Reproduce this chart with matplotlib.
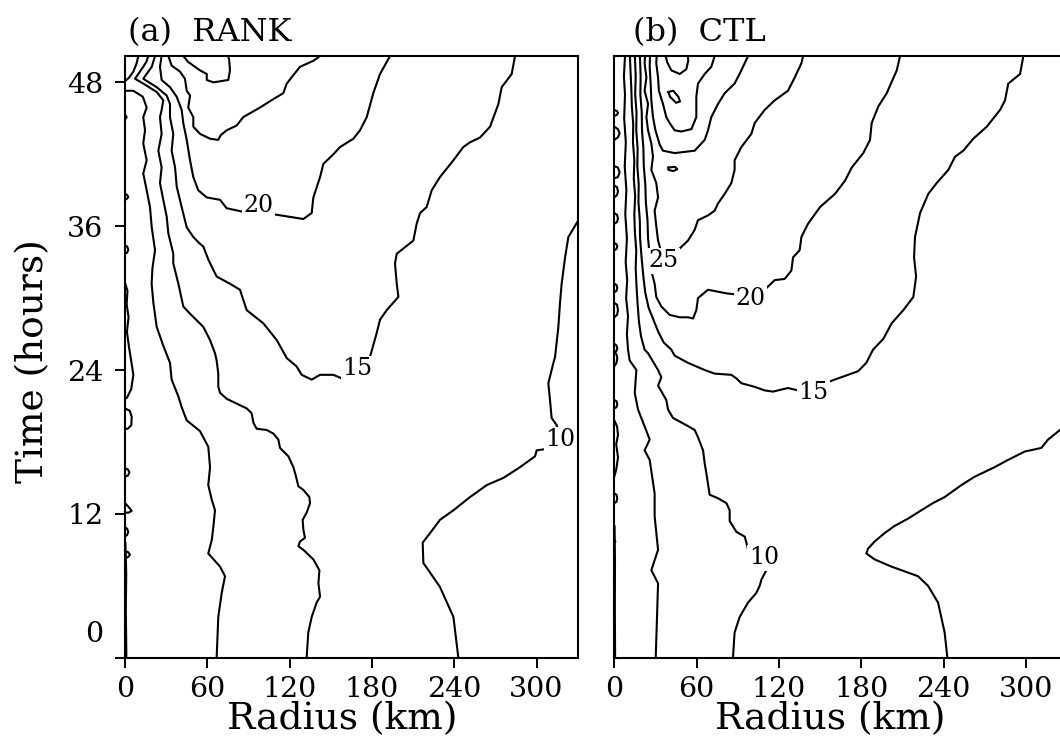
import numpy as np
import matplotlib
matplotlib.use("Agg")
import matplotlib.pyplot as plt
from matplotlib.ticker import FixedLocator

plt.rcParams['font.family'] = ['DejaVu Serif']

# ------------------------------------------------------------------
# Axis layout values
# ------------------------------------------------------------------
radius_ticks = [0, 60, 120, 180, 240, 300]
time_ticks = [0, 12, 24, 36, 48]
time_tick_labels = ['', '12', '24', '36', '48']
radius_max = 330.0
time_max = 50.2

# ------------------------------------------------------------------
# (a) RANK : isotach positions, (radius km, time h)
# ------------------------------------------------------------------
rank_v05_core = [(0, 47.3), (6, 47.3), (13, 46.8), (15.8, 45.9), (13.3, 45.1), (14.6, 44.0),
                 (13.3, 42.9), (15.8, 41.5), (13.3, 40.4), (15.8, 39.0), (18.2, 37.6), (19.5, 35.9),
                 (21.9, 34.0), (20.0, 32.5), (19.4, 31.2), (20.7, 29.6), (23.1, 27.6), (28.0, 26.0),
                 (32.8, 24.6), (34.0, 23.2), (38.9, 21.8), (41.3, 20.9), (45.0, 19.8), (54.7, 18.9),
                 (60.7, 17.6), (62.0, 15.9), (60.7, 14.4), (63.2, 13.2), (65.6, 12.3), (64.4, 10.9),
                 (63.2, 9.8), (60.7, 8.7), (69.3, 7.6), (72.9, 6.8), (70.5, 5.4), (68.0, 3.4), (66.8, 0.0)]
rank_v05_eye = [(9.7, 50.2), (8.5, 49.6), (6.1, 48.9), (3.0, 48.4), (0.0, 48.1)]
rank_v10_inner = [(17.0, 50.2), (15.5, 49.7), (13.3, 49.3), (7.3, 48.3), (13.3, 47.9), (23.1, 47.2),
                  (27.9, 46.5), (26.7, 45.7), (25.5, 45.1), (26.7, 43.7), (24.3, 42.3), (26.7, 40.9),
                  (25.5, 39.6), (27.9, 38.2), (30.4, 36.8), (31.6, 35.4), (35.2, 33.7), (35.2, 32.9),
                  (38.9, 31.2), (42.5, 29.3), (47.4, 28.7), (57.1, 27.6), (62.0, 26.5), (65.6, 25.4),
                  (66.8, 24.8), (68.0, 23.7), (68.0, 22.6), (69.3, 22.1), (74.1, 21.6), (81.4, 21.2),
                  (88.7, 20.8), (92.3, 20.4), (93.6, 19.6), (96.0, 19.1), (103.3, 19.0), (108.1, 18.7),
                  (111.8, 18.2), (113.0, 17.5), (119.1, 16.8), (122.7, 15.9), (124.0, 15.4), (126.4, 14.3),
                  (130.0, 14.0), (134.4, 13.4), (134.9, 12.9), (132.4, 12.1), (129.5, 11.5), (130.0, 10.7),
                  (131.2, 10.0), (127.6, 9.7), (126.4, 9.3), (130.0, 9.0), (137.3, 8.2), (141.7, 7.3),
                  (141.0, 6.2), (142.2, 5.1), (139.7, 4.6), (136.1, 3.4), (133.6, 2.1), (132.4, 0.0)]
rank_v10_outer = [(243.0, 0.0), (239.4, 3.4), (229.6, 5.9), (222.4, 7.1), (217.5, 7.9), (217.0, 9.6),
                  (222.4, 10.4), (229.6, 11.5), (239.4, 12.3), (251.5, 13.4), (263.7, 14.4), (275.8, 15.0),
                  (288.0, 15.9), (298.9, 16.8), (300.1, 17.3), (306.2, 17.4), (317.1, 18.2), (314.7, 19.4),
                  (311.0, 20.0), (309.8, 21.5), (308.6, 22.9), (312.3, 24.6), (313.5, 25.1), (315.9, 27.6),
                  (317.1, 29.6), (318.3, 31.2), (320.8, 33.4), (323.2, 35.1), (330.0, 36.4)]
rank_v15 = [(21.9, 50.2), (19.5, 49.3), (13.3, 48.3), (23.1, 47.6), (30.4, 46.9), (32.8, 46.2),
            (32.8, 45.1), (35.2, 43.7), (34.0, 42.3), (36.5, 40.9), (37.7, 39.3), (41.3, 37.6),
            (45.0, 35.9), (49.8, 35.1), (54.0, 34.6), (57.1, 34.3), (60.8, 33.2), (66.8, 31.8),
            (76.5, 31.2), (83.8, 30.7), (88.7, 29.0), (100.8, 27.9), (110.6, 26.5), (117.9, 25.0),
            (125.1, 24.3), (128.8, 23.6), (136.1, 23.2), (142.2, 23.6), (151.9, 23.6), (158.0, 23.3),
            (169.4, 24.1), (178.6, 25.1), (183.5, 27.1), (185.9, 28.2), (190.8, 29.0), (199.3, 30.1),
            (198.1, 31.2), (196.8, 32.9), (198.1, 33.7), (210.2, 34.8), (212.6, 36.2), (215.1, 37.1),
            (219.9, 37.6), (223.6, 39.0), (229.6, 40.1), (239.4, 41.5), (246.6, 42.6), (251.5, 43.0),
            (258.8, 43.4), (266.1, 44.3), (272.2, 46.2), (274.6, 47.6), (281.9, 48.7), (284.3, 50.2)]
rank_v20 = [(26.7, 50.2), (25.5, 49.3), (26.7, 48.2), (32.8, 47.6), (37.7, 46.8), (41.3, 45.7),
            (42.5, 44.6), (45.0, 43.2), (47.4, 41.5), (49.8, 40.1), (53.4, 39.0), (59.6, 38.4),
            (69.3, 38.2), (74.1, 37.5), (86.3, 37.2), (97.2, 37.75), (108.1, 37.0), (130.0, 36.6),
            (136.1, 37.1), (137.3, 38.4), (142.2, 40.1), (144.6, 41.2), (151.9, 42.0), (156.7, 42.6),
            (166.5, 43.3), (171.3, 44.0), (176.2, 45.1), (181.0, 47.1), (185.9, 48.7), (193.2, 50.2)]
rank_v25 = [(31.6, 50.2), (34.0, 49.4), (40.1, 48.9), (43.7, 48.3), (45.0, 47.3), (47.4, 46.9),
            (46.1, 45.9), (49.8, 45.1), (49.8, 44.3), (54.7, 43.7), (62.0, 43.3), (68.0, 43.2),
            (69.8, 43.6), (74.1, 44.0), (81.4, 44.4), (86.2, 45.1), (98.4, 45.9), (108.1, 46.6),
            (115.4, 47.1), (117.9, 47.9), (122.7, 48.6), (127.6, 49.3), (137.3, 49.8), (142.2, 50.2)]
rank_v30 = [(42.5, 50.2), (46.1, 49.7), (54.7, 49.0), (59.6, 48.7), (59.6, 48.2), (64.4, 48.0),
            (75.3, 48.2), (76.5, 49.0), (76.0, 49.8), (75.3, 50.2)]
rank_axis_loops = [
    [(0, 31.3), (1.8, 30.6), (1.2, 29.5), (2.6, 28.4), (1.4, 27.2), (2.8, 26.0), (4.2, 25.0),
     (6.1, 23.6), (4.5, 22.4), (1.5, 21.7), (0, 21.6)],
    [(0, 20.8), (3.5, 20.6), (4.9, 20.1), (4.6, 19.4), (2.0, 19.1), (0, 19.1)],
    [(0, 15.8), (2.2, 15.7), (3.2, 15.45), (2.2, 15.2), (0, 15.1)],
    [(0, 12.9), (2.5, 12.6), (4.9, 12.25), (2.5, 12.1), (0, 12.1)],
    [(0, 10.9), (1.6, 10.75), (2.4, 10.5), (1.6, 10.25), (0, 10.1)],
    [(0, 8.9), (2.4, 8.8), (3.6, 8.6), (2.4, 8.4), (0, 8.3)],
    [(0, 38.7), (1.6, 38.6), (2.4, 38.45), (1.6, 38.3), (0, 38.2)],
    [(0, 34.4), (1.6, 34.3), (2.4, 34.05), (1.6, 33.8), (0, 33.7)],
    [(0, 45.3), (1.2, 45.1), (0, 44.9)],
    [(0.3, 9.6), (0.9, 7.0), (0.6, 4.0), (1.0, 0.0)],
]
rank_label_text = ['20', '15', '10']
rank_label_r = [97.2, 169.4, 317.1]
rank_label_t = [37.75, 24.1, 18.2]

# ------------------------------------------------------------------
# (b) CTL : isotach positions, (radius km, time h)
# ------------------------------------------------------------------
ctl_v05 = [(30.2, 0.0), (31.9, 6.2), (27.0, 7.3), (31.9, 9.0), (29.4, 11.8), (29.4, 13.7),
           (25.8, 16.5), (22.1, 17.3), (25.8, 18.2), (22.1, 19.3), (17.3, 20.7), (14.9, 22.1),
           (16.1, 24.0), (11.2, 24.8), (10.0, 25.7), (9.2, 27.0), (10.0, 28.5), (8.6, 30.0),
           (9.4, 31.5), (8.3, 33.0), (9.2, 35.0), (8.0, 37.0), (8.8, 39.0), (7.6, 41.0),
           (8.4, 43.0), (7.2, 45.0), (7.8, 47.0), (7.0, 48.5), (7.8, 50.2)]
ctl_v10_inner = [(86.5, 0.0), (87.7, 2.1), (91.4, 3.4), (97.5, 4.6), (103.5, 5.4), (106.0, 6.0),
                 (107.2, 6.5), (110.8, 7.3), (109.0, 8.35), (97.5, 9.0), (96.3, 9.6), (95.1, 10.1),
                 (89.0, 10.5), (84.1, 11.4), (84.1, 12.3), (81.7, 12.9), (75.6, 13.3), (69.5, 13.6),
                 (68.3, 14.5), (67.1, 15.4), (65.9, 16.2), (64.7, 17.3), (61.0, 18.4), (58.6, 19.0),
                 (52.5, 19.4), (42.8, 20.0), (39.2, 20.7), (37.9, 21.5), (31.9, 22.7), (34.3, 23.4),
                 (31.9, 24.0), (24.6, 25.4), (22.1, 25.7), (19.5, 26.8), (18.0, 28.0), (17.0, 29.5),
                 (16.2, 31.0), (15.6, 32.5), (16.0, 34.0), (15.0, 35.5), (14.6, 37.0), (15.2, 38.5),
                 (14.2, 40.0), (14.6, 41.5), (13.6, 43.0), (13.8, 44.5), (12.8, 46.0), (12.4, 47.5),
                 (11.8, 49.0), (11.4, 50.2)]
ctl_v10_outer = [(242.8, 0.0), (240.8, 2.1), (236.0, 4.6), (228.7, 6.0), (221.4, 6.8), (209.3, 7.3),
                 (202.0, 7.6), (189.8, 8.2), (183.7, 8.7), (185.0, 9.1), (189.8, 9.7), (197.1, 10.4),
                 (204.4, 11.0), (214.1, 11.6), (223.8, 12.3), (232.3, 12.9), (240.8, 13.4), (253.0, 14.4),
                 (262.7, 15.1), (277.3, 15.9), (287.0, 16.5), (299.2, 17.2), (311.3, 17.5), (316.2, 18.2),
                 (324.9, 19.0), (330.0, 19.6)]
ctl_v15 = [(15.0, 50.2), (15.6, 48.5), (15.2, 47.0), (16.2, 45.5), (16.0, 44.0), (17.0, 42.5),
           (16.8, 41.0), (17.8, 39.5), (17.6, 38.0), (18.6, 36.5), (18.8, 35.0), (19.8, 33.5),
           (21.0, 32.0), (22.5, 30.5), (25.0, 29.2), (28.5, 28.2), (32.0, 27.2), (36.0, 26.3),
           (41.6, 25.7), (44.0, 25.2), (53.7, 24.6), (65.9, 24.0), (73.2, 23.7), (85.3, 23.6),
           (89.0, 23.3), (92.6, 22.9), (102.3, 22.6), (109.6, 22.3), (115.7, 22.2), (119.3, 22.3),
           (126.6, 22.5), (133.9, 22.3), (144.9, 22.15), (155.8, 23.0), (165.5, 23.4), (177.7, 23.9),
           (183.7, 24.6), (188.6, 25.7), (196.1, 26.6), (202.2, 27.9), (210.7, 29.0), (218.0, 30.1),
           (220.0, 31.8), (218.5, 33.4), (219.2, 35.1), (222.9, 37.1), (228.9, 38.7), (235.0, 39.6),
           (243.5, 40.7), (248.4, 41.8), (254.4, 42.3), (261.7, 43.3), (271.5, 44.3), (281.2, 45.7),
           (284.8, 46.5), (287.2, 47.9), (295.8, 48.7), (298.2, 50.2)]
ctl_v20 = [(18.7, 50.2), (19.2, 48.5), (19.0, 47.0), (20.0, 45.5), (20.2, 44.0), (21.2, 42.5),
           (21.5, 41.0), (22.6, 39.5), (23.0, 38.0), (24.2, 36.5), (24.6, 35.0), (25.8, 33.5),
           (27.0, 32.3), (29.4, 31.2), (30.6, 30.1), (34.3, 29.3), (40.4, 28.6), (47.7, 28.4),
           (53.7, 28.4), (57.4, 28.3), (59.8, 29.0), (61.0, 30.0), (68.3, 30.7), (81.7, 30.4),
           (89.0, 30.3), (99.4, 30.0), (109.6, 30.7), (116.9, 31.5), (124.2, 31.6), (129.1, 32.3),
           (130.3, 33.4), (135.1, 34.0), (136.4, 35.1), (141.2, 36.2), (150.0, 37.6), (160.9, 38.7),
           (168.2, 39.8), (173.1, 40.9), (181.5, 42.1), (186.4, 43.2), (187.6, 44.6), (192.5, 46.0),
           (198.6, 47.1), (205.9, 49.0), (208.3, 50.2)]
ctl_v25 = [(22.4, 50.2), (22.1, 49.6), (23.4, 48.4), (22.1, 47.3), (24.6, 46.2), (23.4, 45.1),
           (24.6, 44.0), (27.0, 42.9), (28.2, 41.8), (27.0, 40.7), (30.6, 39.6), (31.9, 38.4),
           (29.4, 37.3), (30.6, 36.0), (31.9, 34.8), (36.0, 33.1), (46.4, 34.0), (53.7, 34.8),
           (58.6, 35.7), (61.0, 36.5), (68.3, 36.9), (73.2, 37.3), (75.6, 37.9), (80.5, 38.7),
           (85.3, 39.6), (87.7, 40.7), (87.7, 41.5), (92.6, 42.6), (99.9, 43.7), (102.3, 44.6),
           (109.6, 45.7), (116.9, 46.5), (126.6, 47.3), (131.5, 48.4), (136.4, 49.6), (137.6, 50.2)]
ctl_v30 = [(26.0, 50.2), (25.8, 49.3), (26.5, 47.9), (27.0, 46.5), (28.2, 45.1), (30.0, 44.0),
           (33.1, 42.8), (35.5, 42.3), (44.0, 42.1), (58.6, 42.3), (65.9, 43.2), (68.3, 44.0),
           (70.7, 45.1), (75.6, 46.2), (80.5, 47.1), (87.7, 47.9), (92.6, 49.0), (97.5, 50.2)]
ctl_v35 = [(30.9, 50.2), (30.6, 49.6), (31.9, 48.4), (32.5, 47.3), (35.5, 46.2), (37.9, 45.1),
           (40.4, 44.6), (44.0, 44.0), (48.9, 43.9), (56.2, 44.1), (59.8, 45.1), (59.8, 46.8),
           (61.0, 47.9), (65.9, 48.7), (70.7, 49.3), (73.2, 50.2)]
ctl_v40 = [(37.5, 50.2), (38.5, 49.7), (41.6, 49.0), (47.7, 48.7), (52.5, 49.1), (53.9, 49.8),
           (53.7, 50.2)]
ctl_islands = [
    [(39.4, 47.2), (43.0, 47.3), (46.7, 46.8), (47.9, 46.4), (45.0, 46.3), (40.6, 46.8), (39.4, 47.2)],
    [(39.4, 40.9), (44.3, 40.95), (45.9, 40.75), (43.0, 40.6), (39.4, 40.7), (39.4, 40.9)],
]
ctl_axis_loops = [
    [(0, 45.7), (2.0, 45.6), (2.7, 45.45), (2.0, 45.3), (0, 45.2)],
    [(0, 44.3), (2.6, 44.1), (3.9, 43.75), (2.6, 43.4), (0, 43.2)],
    [(0, 41.0), (2.6, 40.9), (3.9, 40.5), (2.6, 40.1), (0, 40.0)],
    [(0, 39.4), (2.0, 39.25), (2.7, 38.9), (2.0, 38.6), (0, 38.4)],
    [(0, 37.1), (2.0, 36.95), (2.7, 36.65), (2.0, 36.35), (0, 36.2)],
    [(0, 34.6), (1.6, 34.5), (2.2, 34.3), (1.6, 34.1), (0, 34.0)],
    [(0, 31.2), (1.6, 31.1), (2.2, 30.85), (1.6, 30.6), (0, 30.5)],
    [(0, 29.6), (2.0, 29.45), (2.7, 29.0), (2.0, 28.6), (0, 28.4)],
    [(0, 26.2), (1.6, 26.05), (2.2, 25.8), (1.6, 25.6), (0, 25.5)],
    [(0, 25.6), (1.6, 25.3), (2.2, 25.0), (1.6, 24.6), (0, 24.3)],
    [(0, 21.5), (1.6, 21.4), (2.2, 21.15), (1.6, 20.9), (0, 20.8)],
    [(0, 19.8), (2.0, 19.3), (2.7, 18.6), (1.4, 17.8), (2.7, 16.7), (1.4, 15.7), (0, 15.1)],
    [(0, 13.7), (1.6, 13.6), (2.2, 13.3), (1.6, 13.0), (0, 12.9)],
    [(0, 9.8), (0.8, 9.7), (0, 9.6)],
    [(0.2, 11.0), (0.5, 8.0), (0.4, 4.0), (0.6, 0.0)],
]
ctl_label_text = ['25', '20', '15', '10']
ctl_label_r = [36.0, 99.4, 144.9, 109.0]
ctl_label_t = [33.1, 30.0, 22.15, 8.35]

rank_lines = [rank_v05_core, rank_v05_eye, rank_v10_inner, rank_v10_outer,
              rank_v15, rank_v20, rank_v25, rank_v30] + rank_axis_loops
ctl_lines = [ctl_v05, ctl_v10_inner, ctl_v10_outer, ctl_v15, ctl_v20, ctl_v25,
             ctl_v30, ctl_v35, ctl_v40] + ctl_islands + ctl_axis_loops

# ------------------------------------------------------------------
# Figure
# ------------------------------------------------------------------
W, H = 1060, 740
fig = plt.figure(figsize=(W / 100, H / 100), dpi=100)

ax_left, ax_bottom_px, ax_top_px, ax_w_px = 125, 657.7, 56, 452.7
ax_a = fig.add_axes([ax_left / W, (H - ax_bottom_px) / H, ax_w_px / W,
                     (ax_bottom_px - ax_top_px) / H])
ax_b = fig.add_axes([614.3 / W, (H - ax_bottom_px) / H, ax_w_px / W,
                     (ax_bottom_px - ax_top_px) / H])

TICK_FS = 20.5


def draw_panel(ax, lines, lab_text, lab_r, lab_t):
    for pts in lines:
        arr = np.asarray(pts, dtype=float)
        ax.plot(arr[:, 0], arr[:, 1], color='black', lw=1.5,
                solid_joinstyle='round', solid_capstyle='round', zorder=2)
    for s, r, t in zip(lab_text, lab_r, lab_t):
        ax.text(r, t, s, ha='center', va='center', fontsize=17, zorder=4,
                bbox=dict(boxstyle='square,pad=0.06', fc='white', ec='none'))
    ax.set_xlim(0, radius_max)
    ax.set_ylim(0, time_max)
    ax.set_xticks(radius_ticks)
    ax.set_xticklabels([str(v) for v in radius_ticks])
    for sp in ax.spines.values():
        sp.set_linewidth(1.5)
    ax.tick_params(axis='x', direction='out', length=7.2, width=1.4,
                   labelsize=TICK_FS, pad=5.8)


draw_panel(ax_a, rank_lines, rank_label_text, rank_label_r, rank_label_t)
draw_panel(ax_b, ctl_lines, ctl_label_text, ctl_label_r, ctl_label_t)

# time axis on the left panel; the "0" label sits a little above the origin tick
ax_a.set_yticks(time_ticks)
ax_a.set_yticklabels(time_tick_labels)
ax_a.yaxis.set_minor_locator(FixedLocator([2.2]))
ax_a.set_yticks([2.2], labels=['0'], minor=True)
ax_a.tick_params(axis='y', which='major', direction='out', length=7.2, width=1.4,
                 labelsize=TICK_FS, pad=8.5)
ax_a.tick_params(axis='y', which='minor', length=0, labelsize=TICK_FS, pad=15.7)
ax_b.tick_params(axis='y', left=False, labelleft=False)

# titles and axis labels
fig.text(128 / W, 1 - 32.5 / H, '(a)  RANK', ha='left', va='center', fontsize=23)
fig.text(633 / W, 1 - 32.5 / H, '(b)  CTL', ha='left', va='center', fontsize=23)
fig.text(342 / W, 1 - 719 / H, 'Radius (km)', ha='center', va='center', fontsize=27)
fig.text(830 / W, 1 - 719 / H, 'Radius (km)', ha='center', va='center', fontsize=27)
fig.text(33 / W, 1 - 361 / H, 'Time (hours)', ha='center', va='center',
         rotation=90, fontsize=27)

fig.savefig('out.png', dpi=100)
